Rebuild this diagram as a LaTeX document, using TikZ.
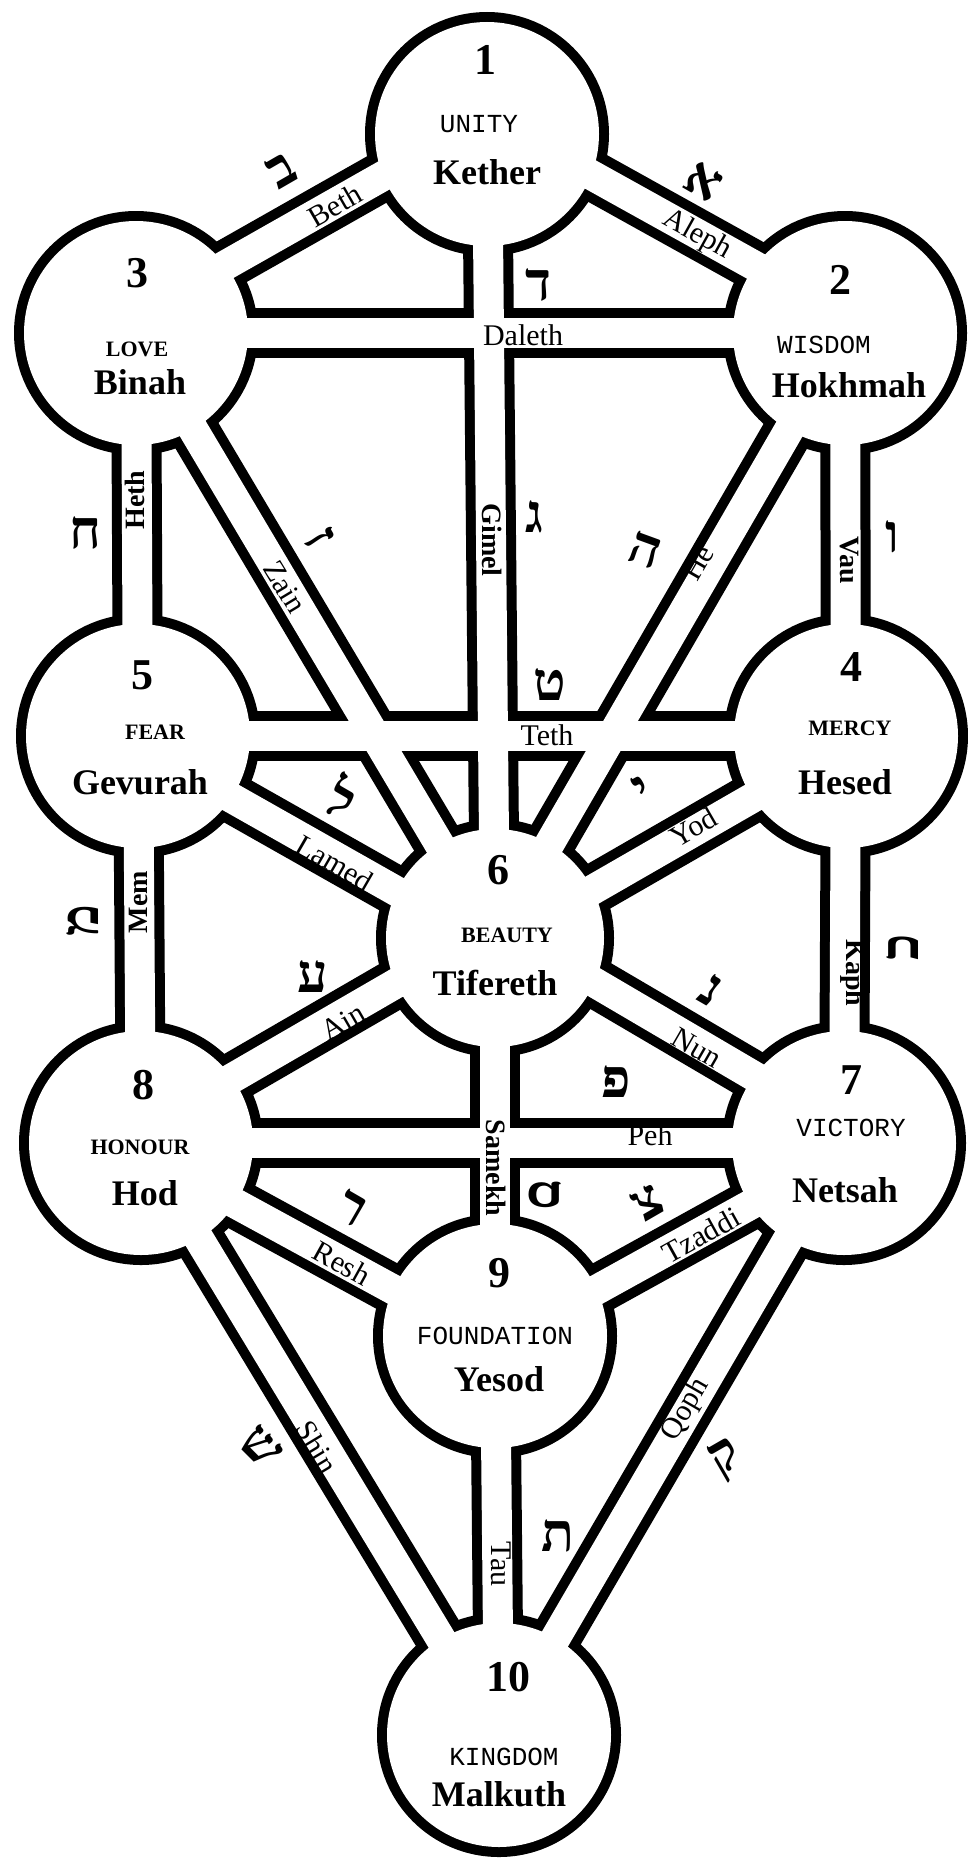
\documentclass[tikz,border=0pt]{standalone}
\usepackage{fontspec}
\setmainfont{Liberation Serif}
\newfontfamily\typefont{Liberation Mono}
\newfontfamily\hebfont[Script=Hebrew]{Liberation Serif}

\begin{document}
\begin{tikzpicture}[x=1pt, y=-1pt,
  pathout/.style={line width=50pt, black},
  pathin/.style={line width=30pt, white},
  num/.style={inner sep=0pt, font=\fontsize{44}{44}\selectfont\bfseries},
  sname/.style={inner sep=0pt, font=\fontsize{36}{36}\selectfont\bfseries},
  qtype/.style={inner sep=0pt, font=\typefont\fontsize{26}{26}\selectfont},
  qbold/.style={inner sep=0pt, font=\fontsize{22}{22}\selectfont\bfseries},
  plabel/.style={inner sep=0pt, font=\fontsize{30}{30}\selectfont},
  vlabel/.style={inner sep=0pt, font=\fontsize{28}{28}\selectfont\bfseries},
  hletter/.style={inner sep=0pt, font=\hebfont\bfseries\fontsize{54}{54}\selectfont}
]
\useasboundingbox (0,0) rectangle (968,1860);
\fill[white] (0,0) rectangle (968,1860);

% the ten sephiroth
\coordinate (kether)   at (487,134);
\coordinate (hokhmah)  at (845,333);
\coordinate (binah)    at (136,333);
\coordinate (hesed)    at (846,736);
\coordinate (gevurah)  at (138,736);
\coordinate (tifereth) at (495,938);
\coordinate (netsah)   at (844,1143);
\coordinate (hod)      at (141,1143);
\coordinate (yesod)    at (495,1336);
\coordinate (malkuth)  at (499,1735);

% outlines first, then the white inside
\foreach \a/\b/\s in {kether/hokhmah/17, kether/binah/17, kether/tifereth/0,
    hokhmah/binah/0, hokhmah/tifereth/0, hokhmah/hesed/0, binah/tifereth/0,
    binah/gevurah/0, hesed/gevurah/0, hesed/tifereth/-8, hesed/netsah/0,
    gevurah/tifereth/-9, gevurah/hod/0, tifereth/netsah/14, tifereth/yesod/0,
    tifereth/hod/12, netsah/hod/0, netsah/yesod/-10, netsah/malkuth/0,
    hod/yesod/-9, hod/malkuth/0, yesod/malkuth/0}
  \draw[pathout] ([yshift=\s]\a) -- ([yshift=\s]\b);
\foreach \c/\r in {kether/117, hokhmah/117, binah/117, hesed/117, gevurah/117,
    tifereth/114, netsah/117, hod/117, yesod/117, malkuth/117}
  \fill[black] (\c) circle[radius=\r+5];
\foreach \a/\b/\s in {kether/hokhmah/17, kether/binah/17, kether/tifereth/0,
    hokhmah/binah/0, hokhmah/tifereth/0, hokhmah/hesed/0, binah/tifereth/0,
    binah/gevurah/0, hesed/gevurah/0, hesed/tifereth/-8, hesed/netsah/0,
    gevurah/tifereth/-9, gevurah/hod/0, tifereth/netsah/14, tifereth/yesod/0,
    tifereth/hod/12, netsah/hod/0, netsah/yesod/-10, netsah/malkuth/0,
    hod/yesod/-9, hod/malkuth/0, yesod/malkuth/0}
  \draw[pathin] ([yshift=\s]\a) -- ([yshift=\s]\b);
\foreach \c/\r in {kether/117, hokhmah/117, binah/117, hesed/117, gevurah/117,
    tifereth/114, netsah/117, hod/117, yesod/117, malkuth/117}
  \fill[white] (\c) circle[radius=\r-5];

% texts in the circles
\node[num]   (n1)  at (485,60)   {1};
\node[qtype] (q1)  at (479,124)  {UNITY};
\node[sname] (s1)  at (487,172)  {Kether};
\node[num]   (n2)  at (840,280)  {2};
\node[qtype] (q2)  at (824,345)  {WISDOM};
\node[sname] (s2)  at (849,385)  {Hokhmah};
\node[num]   (n3)  at (137,273)  {3};
\node[qbold] (q3)  at (137,349)  {LOVE};
\node[sname] (s3)  at (140,382)  {Binah};
\node[num]   (n4)  at (851,667)  {4};
\node[qbold] (q4)  at (850,728)  {MERCY};
\node[sname] (s4)  at (845,782)  {Hesed};
\node[num]   (n5)  at (142,675)  {5};
\node[qbold] (q5)  at (155,732)  {FEAR};
\node[sname] (s5)  at (140,782)  {Gevurah};
\node[num]   (n6)  at (498,870)  {6};
\node[qbold] (q6)  at (507,935)  {BEAUTY};
\node[sname] (s6)  at (495,983)  {Tifereth};
\node[num]   (n7)  at (851,1080) {7};
\node[qtype] (q7)  at (851,1128) {VICTORY};
\node[sname] (s7)  at (845,1190) {Netsah};
\node[num]   (n8)  at (143,1085) {8};
\node[qbold] (q8)  at (140,1147) {HONOUR};
\node[sname] (s8)  at (145,1193) {Hod};
\node[num]   (n9)  at (499,1273) {9};
\node[qtype] (q9)  at (495,1336) {FOUNDATION};
\node[sname] (s9)  at (499,1379) {Yesod};
\node[num]   (n10) at (508,1677) {10};
\node[qtype] (q10) at (504,1757) {KINGDOM};
\node[sname] (s10) at (499,1794) {Malkuth};

% path names
\node[plabel, rotate=30]  (beth)   at (335,205)  {Beth};
\node[plabel, rotate=-29] (aleph)  at (697,235)  {Aleph};
\node[plabel]             (daleth) at (523,335)  {Daleth};
\node[vlabel, rotate=-90] (gimel)  at (492,540)  {Gimel};
\node[vlabel, rotate=90]  (heth)   at (135,500)  {Heth};
\node[plabel, rotate=-59] (zain)   at (285,587)  {Zain};
\node[plabel, rotate=60]  (he)     at (698,563)  {He};
\node[vlabel, rotate=-90] (vau)    at (849,560)  {Vau};
\node[plabel]             (teth)   at (547,735)  {Teth};
\node[plabel, rotate=-30] (lamed)  at (335,863)  {Lamed};
\node[plabel, rotate=30]  (yod)    at (693,827)  {Yod};
\node[vlabel, rotate=90]  (mem)    at (138,902)  {Mem};
\node[vlabel, rotate=-90] (kaph)   at (853,973)  {Kaph};
\node[plabel, rotate=30]  (ain)    at (343,1022) {Ain};
\node[plabel, rotate=-30] (nun)    at (697,1048) {Nun};
\node[vlabel, rotate=-90] (samekh) at (496,1168) {Samekh};
\node[plabel]             (peh)    at (650,1135) {Peh};
\node[plabel, rotate=-29] (resh)   at (342,1263) {Resh};
\node[plabel, rotate=29]  (tzaddi) at (701,1235) {Tzaddi};
\node[plabel, rotate=-59] (shin)   at (317,1447) {Shin};
\node[plabel, rotate=60]  (qoph)   at (686,1410) {Qoph};
\node[plabel, rotate=-90] (tau)    at (501,1564) {Tau};

% hebrew letters
\node[hletter, rotate=30]  (hbeth)   at (282,170)  {ב};
\node[hletter, rotate=-30] (haleph)  at (703,182)  {א};
\node[hletter]             (hdaleth) at (538,285)  {ד};
\node[hletter]             (hgimel)  at (534,517)  {ג};
\node[hletter]             (hheth)   at (85,533)   {ח};
\node[hletter]             (hvau)    at (892,537)  {ו};
\node[hletter, rotate=-60] (hzain)   at (320,538)  {ז};
\node[hletter, rotate=-20] (hhe)     at (645,550)  {ה};
\node[hletter]             (hteth)   at (550,685)  {ט};
\node[hletter, rotate=-30] (hlamed)  at (343,797)  {ל};
\node[hletter, rotate=30]  (hyod)    at (643,790)  {י};
\node[hletter, rotate=90]  (hmem)    at (83,920)   {מ};
\node[hletter, rotate=90]  (hkaph)   at (903,947)  {כ};
\node[hletter]             (hain)    at (313,977)  {ע};
\node[hletter, rotate=-30] (hnun)    at (711,990)  {נ};
\node[hletter, rotate=-90] (hsamekh) at (545,1195) {ס};
\node[hletter]             (hpeh)    at (616,1082) {פ};
\node[hletter, rotate=30]  (htzaddi) at (648,1203) {צ};
\node[hletter, rotate=-30] (hresh)   at (352,1208) {ר};
\node[hletter, rotate=-45] (hshin)   at (261,1447) {ש};
\node[hletter, rotate=30]  (hqoph)   at (727,1460) {ק};
\node[hletter]             (htau)    at (558,1536) {ת};
\end{tikzpicture}
\end{document}
